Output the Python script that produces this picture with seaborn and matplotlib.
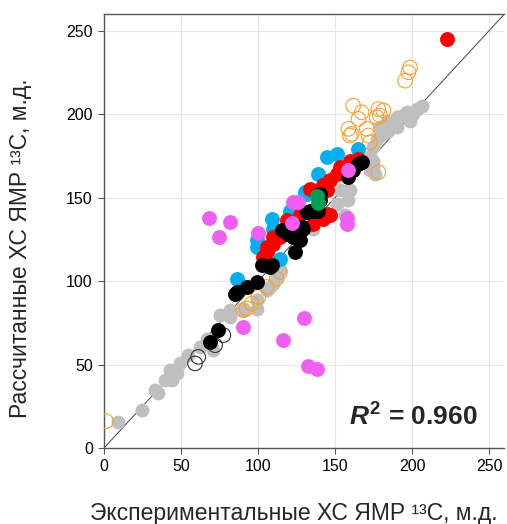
import numpy as np
import pandas as pd
import matplotlib
matplotlib.use("Agg")
import matplotlib.pyplot as plt
import seaborn as sns

sns.set_theme(style="white")
plt.rcParams["font.family"] = ["Liberation Sans", "DejaVu Sans"]
plt.rcParams["mathtext.fontset"] = "custom"
plt.rcParams["mathtext.it"] = "Liberation Sans:italic:bold"
plt.rcParams["mathtext.rm"] = "Liberation Sans:bold"
plt.rcParams["mathtext.bf"] = "Liberation Sans:bold"

# Experimental vs calculated 13C NMR chemical shifts (ppm), by compound group
gray_x = [9.3, 24.5, 33.1, 35.3, 39.6, 42.9, 47.2, 44.0, 49.4, 54.7, 62.3, 66.7, 71.0,
          75.3, 81.8, 81.8, 90.4, 99.1, 99.1, 105.6, 107.8, 110.0, 112.1, 114.3,
          135.9, 146.8, 151.1, 153.2, 159.7, 156.5, 158.4, 172.7, 174.9,
          174.9, 176.0, 172.7, 174.9, 177.0, 181.4, 184.6, 179.2, 183.6, 186.8,
          190.0, 190.0, 193.2, 196.5, 198.7, 200.9, 203.0, 206.2]
gray_y = [15.7, 22.7, 34.7, 32.7, 40.7, 46.7, 44.7, 40.7, 50.7, 55.6, 60.6, 65.6, 58.6,
          79.5, 82.5, 78.5, 82.5, 83.5, 88.5, 94.5, 96.5, 98.5, 102.5, 106.5,
          131.4, 140.3, 146.3, 154.3, 154.3, 139.4, 148.3, 166.3, 172.2,
          168.2, 164.3, 174.3, 180.2, 185.2, 188.2, 190.2, 192.2, 196.2, 195.2,
          192.2, 198.2, 199.2, 201.1, 196.2, 200.2, 203.1, 205.1]

orange_x = [1.3, 90.5, 92.6, 95.9, 100.2, 105.6, 112.1, 114.3,
            158.7, 159.7, 160.8, 161.8, 165.2, 167.3, 170.6, 171.6, 172.7,
            177.0, 178.1, 179.2, 181.4, 178.1, 195.5, 197.6, 198.7]
orange_y = [16.1, 82.5, 83.6, 86.5, 90.5, 96.5, 101.5, 105.4,
            191.2, 187.2, 188.2, 205.1, 197.2, 201.1, 191.2, 187.2, 183.2,
            198.2, 203.1, 199.2, 202.2, 165.3, 220.1, 225.1, 228.0]

open_black_x = [59.1, 61.2, 72.1, 77.5]
open_black_y = [50.7, 54.6, 61.6, 67.6]

blue_x = [86.1, 99.1, 99.1, 108.9, 109.9, 114.3, 120.8, 122.9, 125.1, 130.5,
          131.6, 139.2, 144.6, 151.0, 165.1]
blue_y = [101.5, 124.4, 120.4, 137.3, 131.4, 113.5, 142.3, 142.3, 136.4, 153.5,
          152.3, 164.3, 174.2, 176.2, 179.2]

red_x = [103.4, 105.6, 105.6, 110.0, 110.0, 114.3, 118.6, 127.3, 133.8, 135.9,
         140.3, 142.4, 142.4, 144.6, 144.6, 146.8, 146.8, 151.1, 153.2, 157.5,
         159.7, 165.1, 222.7]
red_y = [114.4, 117.4, 120.4, 122.4, 126.4, 126.4, 136.4, 139.4, 155.3, 134.4,
         154.3, 157.3, 137.3, 154.3, 140.3, 160.3, 139.4, 164.3, 168.2, 168.2,
         172.2, 173.2, 245.2]

black_x = [68.8, 74.2, 85.1, 86.1, 92.7, 99.1, 102.4, 107.8, 108.9, 115.4,
           116.4, 119.7, 122.9, 124.0, 127.3, 128.3, 129.4, 131.6, 133.8,
           137.0, 139.2, 140.3, 140.3, 158.6, 161.9, 165.2, 167.3]
black_y = [63.6, 70.6, 92.5, 93.5, 96.5, 99.5, 109.4, 108.4, 109.4, 130.4,
           130.4, 128.4, 126.4, 117.4, 124.4, 132.4, 131.4, 141.3, 142.3,
           142.3, 142.3, 148.3, 152.3, 162.3, 166.3, 170.3, 171.2]

pink_x = [68.2, 74.7, 81.8, 90.0, 100.2, 116.0, 121.9, 122.9, 126.2, 129.9,
          132.7, 138.1, 157.6, 158.0, 158.7]
pink_y = [137.6, 126.2, 135.2, 72.5, 129.0, 64.6, 134.7, 147.3, 147.3, 77.6,
          49.0, 47.1, 138.0, 134.0, 166.7]

green_x = [138.5, 138.8]
green_y = [151.0, 147.0]

fig = plt.figure(figsize=(5.07, 5.24), dpi=100)
ax = fig.add_axes([0.2051, 0.1450, 0.7899, 0.8282])

ax.plot([0, 260], [0, 260], color="#444444", lw=0.7, zorder=1)

groups = [
    (gray_x, gray_y, dict(color="#BFBFBF", s=100, linewidth=0)),
    (orange_x, orange_y, dict(facecolor="none", edgecolor="#F7A030", s=110, linewidth=0.8)),
    (open_black_x, open_black_y, dict(facecolor="none", edgecolor="#333333", s=110, linewidth=0.8)),
    (blue_x, blue_y, dict(color="#00B0F0", s=115, linewidth=0)),
    (red_x, red_y, dict(color="#FF0000", s=115, linewidth=0)),
    (black_x, black_y, dict(color="#000000", s=115, linewidth=0)),
    (pink_x, pink_y, dict(color="#F060F0", s=115, linewidth=0)),
    (green_x, green_y, dict(color="#00A050", s=115, linewidth=0)),
]
for i, (gx, gy, kw) in enumerate(groups):
    df = pd.DataFrame({"x": gx, "y": gy})
    sns.scatterplot(data=df, x="x", y="y", ax=ax, zorder=2 + i, legend=False, **kw)

ax.set_xlim(0, 260)
ax.set_ylim(0, 260)
ticks = [0, 50, 100, 150, 200, 250]
ax.set_xticks(ticks)
ax.set_yticks(ticks)
ax.grid(True, color="#E6E6E6", lw=0.8)
ax.set_axisbelow(True)
for side in ["left", "bottom", "top"]:
    ax.spines[side].set_color("#555555")
    ax.spines[side].set_linewidth(1.0)
ax.spines["right"].set_visible(False)
ax.tick_params(axis="both", direction="out", length=4, width=0.8, color="#555555",
               labelsize=11.5, labelcolor="#000000", pad=4, bottom=True, left=True)

ax.set_xlabel("Экспериментальные ХС ЯМР ¹³С, м.д.", fontsize=16.5)
ax.set_ylabel("Рассчитанные ХС ЯМР ¹³С, м.д.", fontsize=16.5)
ax.xaxis.set_label_coords(0.475, -0.124)
ax.yaxis.set_label_coords(-0.18, 0.46)

ax.text(201.0, 18.5, r"$R^{2}$ = 0.960", fontsize=19, fontweight="bold",
        ha="center", va="center", zorder=20)

fig.savefig("out.png", dpi=100)
